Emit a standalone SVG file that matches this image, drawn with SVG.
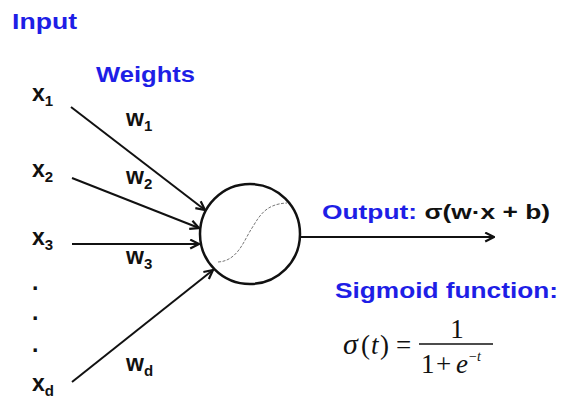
<svg xmlns="http://www.w3.org/2000/svg" width="562" height="398" viewBox="0 0 562 398">
<defs>
<style>
.blue{font-family:"Liberation Sans",Arial,sans-serif;font-weight:bold;fill:#1e1ee6;}
.lbl{font-family:"Liberation Sans",Arial,sans-serif;font-weight:bold;fill:#111;font-size:23px;}
.sub{font-size:15px;}
.math{font-family:"Liberation Serif","Times New Roman",serif;fill:#111;font-size:27px;}
.edge{stroke:#111;stroke-width:2;fill:none;}
</style>
<marker id="ah" viewBox="0 0 10 10" refX="9" refY="5" markerWidth="11" markerHeight="11" orient="auto" markerUnits="userSpaceOnUse">
<path d="M1,1 L9,5 L1,9" fill="none" stroke="#111" stroke-width="2"/>
</marker>
</defs>
<rect width="562" height="398" fill="#fff"/>
<text class="blue" x="12" y="29" font-size="22" textLength="65" lengthAdjust="spacingAndGlyphs">Input</text>
<text class="blue" x="96" y="82" font-size="22" textLength="99" lengthAdjust="spacingAndGlyphs">Weights</text>
<g id="inputs">
<text class="lbl" x="32" y="101">x<tspan class="sub" dy="5">1</tspan></text>
<text class="lbl" x="32" y="177">x<tspan class="sub" dy="5">2</tspan></text>
<text class="lbl" x="32" y="245">x<tspan class="sub" dy="5">3</tspan></text>
<text class="lbl" x="32" y="290">.</text>
<text class="lbl" x="32" y="320">.</text>
<text class="lbl" x="32" y="352">.</text>
<text class="lbl" x="32" y="391">x<tspan class="sub" dy="5">d</tspan></text>
</g>
<g id="weights">
<text class="lbl" x="126" y="126">w<tspan class="sub" dy="5">1</tspan></text>
<text class="lbl" x="126" y="184">w<tspan class="sub" dy="5">2</tspan></text>
<text class="lbl" x="126" y="264">w<tspan class="sub" dy="5">3</tspan></text>
<text class="lbl" x="126" y="371">w<tspan class="sub" dy="5">d</tspan></text>
</g>
<g id="neuron">
<circle cx="250" cy="234" r="50" fill="#fff" stroke="#111" stroke-width="2.5"/>
<path d="M218,262 C238,261 244,240 252,228 C260,215 266,204 287,203" fill="none" stroke="#777" stroke-width="1" stroke-dasharray="3,1.5"/>
</g>
<g id="connectors">
<line class="edge" x1="71" y1="107" x2="205" y2="210" marker-end="url(#ah)"/>
<line class="edge" x1="72" y1="178" x2="199" y2="228" marker-end="url(#ah)"/>
<line class="edge" x1="72" y1="244" x2="199" y2="244" marker-end="url(#ah)"/>
<line class="edge" x1="72" y1="382" x2="213" y2="270" marker-end="url(#ah)"/>
<line class="edge" x1="300" y1="237" x2="494" y2="237" marker-end="url(#ah)"/>
</g>
<g id="output">
<text class="blue" x="322" y="219" font-size="21" textLength="228" lengthAdjust="spacingAndGlyphs">Output: <tspan fill="#111">σ(w·x + b)</tspan></text>
</g>
<g id="sigmoid">
<text class="blue" x="335" y="298" font-size="22" textLength="223" lengthAdjust="spacingAndGlyphs">Sigmoid function:</text>
<text class="math" y="354"><tspan x="343" font-style="italic" font-size="30">σ</tspan><tspan x="361">(</tspan><tspan x="371" font-style="italic">t</tspan><tspan x="380">)</tspan><tspan x="396">=</tspan></text>
<line x1="419" y1="344" x2="493" y2="344" stroke="#111" stroke-width="1.5"/>
<text class="math" x="457" y="338" text-anchor="middle">1</text>
<text class="math" y="373"><tspan x="421">1</tspan><tspan x="436">+</tspan><tspan x="456" font-style="italic">e</tspan><tspan x="469" font-size="14" dy="-12">−<tspan font-style="italic">t</tspan></tspan></text>
</g>
</svg>
